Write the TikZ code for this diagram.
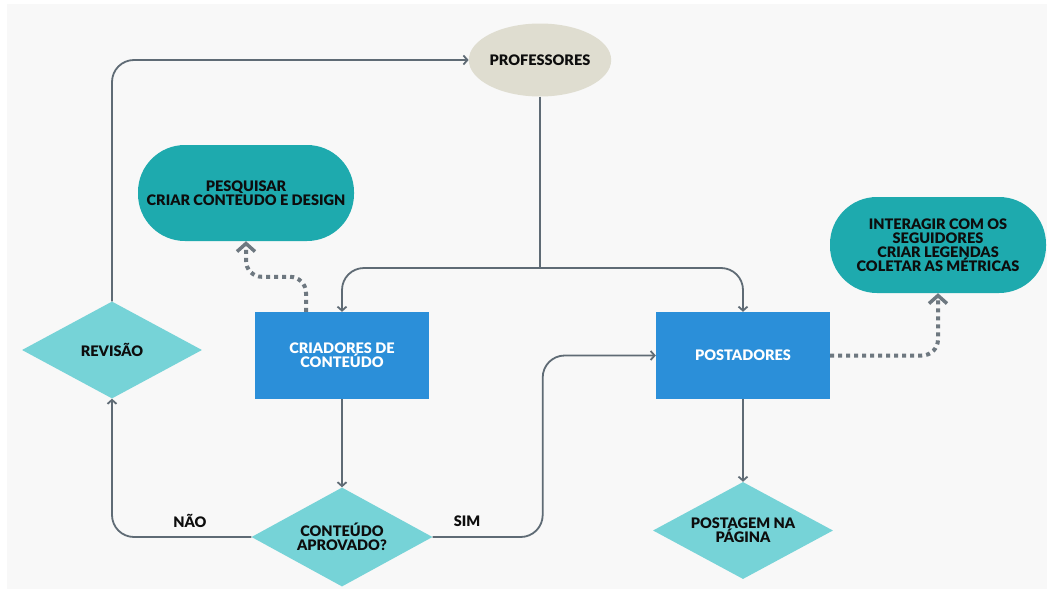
\documentclass[tikz,border=0pt]{standalone}
\usepackage{fontspec}
\setmainfont{Lato}[BoldFont={Lato Black}]
\usepackage{tikz}
\usetikzlibrary{arrows.meta, shapes.geometric, positioning}

\definecolor{bgcol}{HTML}{F8F8F8}
\definecolor{linecol}{HTML}{5F6B75}
\definecolor{dotcol}{HTML}{6E7880}
\definecolor{tealcol}{HTML}{1EAAAE}
\definecolor{lteal}{HTML}{76D3D7}
\definecolor{bluecol}{HTML}{2B8FD9}
\definecolor{beige}{HTML}{DFDDD0}

\tikzset{
	txt/.style={font=\bfseries\fontsize{14.5}{14}\selectfont, align=center, text=black!95},
	task/.style={rectangle, fill=bluecol, minimum width=174pt, minimum height=87pt, txt, text=white},
	pill/.style={rectangle, rounded corners=47pt, fill=tealcol, minimum width=216pt, minimum height=96pt, txt},
	choice/.style={diamond, aspect=1.86, inner sep=0pt, fill=lteal, minimum width=180pt, minimum height=97pt, txt},
	wire/.style={draw=linecol, line width=1.8pt},
	conn/.style={wire, rounded corners=22pt, -{Straight Barb[length=4pt,width=9pt]}},
	dotconn/.style={draw=dotcol, line width=4pt, dash pattern=on 4pt off 4pt, rounded corners=16pt, -{Straight Barb[length=8pt,width=18pt,line width=3.5pt]}}
}

\begin{document}
\begin{tikzpicture}[x=1pt,y=-1pt]
		\useasboundingbox (0,0) rectangle (1047,589);
		\fill[bgcol] (7,4) rectangle (1047,589);

		\node[ellipse, fill=beige, minimum width=140pt, minimum height=73pt, inner sep=0pt, txt] (prof) at (540,60) {PROFESSORES};
		\node[pill]   (pesq)  at (246,193)   {PESQUISAR\\CRIAR CONTEUDO E DESIGN};
		\node[pill]   (inter) at (938,245)   {INTERAGIR COM OS\\SEGUIDORES\\CRIAR LEGENDAS\\COLETAR AS MÉTRICAS};
		\node[task]   (criad) at (342,355.5) {CRIADORES DE\\CONTEÚDO};
		\node[task]   (post)  at (743,355.5) {POSTADORES};
		\node[choice] (rev)   at (112,350)   {REVISÃO};
		\node[choice, minimum width=181pt, minimum height=99pt] (aprov) at (342,537) {CONTEÚDO\\APROVADO?};
		\node[choice] (pag)   at (743,530.5) {POSTAGEM NA\\PÁGINA};

		\node[txt] (nao) at (190,521) {NÃO};
		\node[txt] (sim) at (467,521) {SIM};

		\coordinate (junc) at (540,268);

		\draw[conn] (rev.north) |- (prof.west);
		\draw[wire] (prof.south) -- (junc);
		\draw[conn] (junc) -| (criad.north);
		\draw[conn] (junc) -| (post.north);
		\draw[conn] (criad.south) -- (aprov.north);
		\draw[conn] (aprov.west) -| (rev.south);
		\draw[conn] (aprov.east) -- ++(110,0) |- (post.west);
		\draw[conn] (post.south) -- (pag.north);

		\draw[dotconn] ([xshift=-36pt]criad.north) -- ++(0,-35) -| (pesq.south);
		\draw[dotconn] (post.east) -| (inter.south);
	\end{tikzpicture}
\end{document}
